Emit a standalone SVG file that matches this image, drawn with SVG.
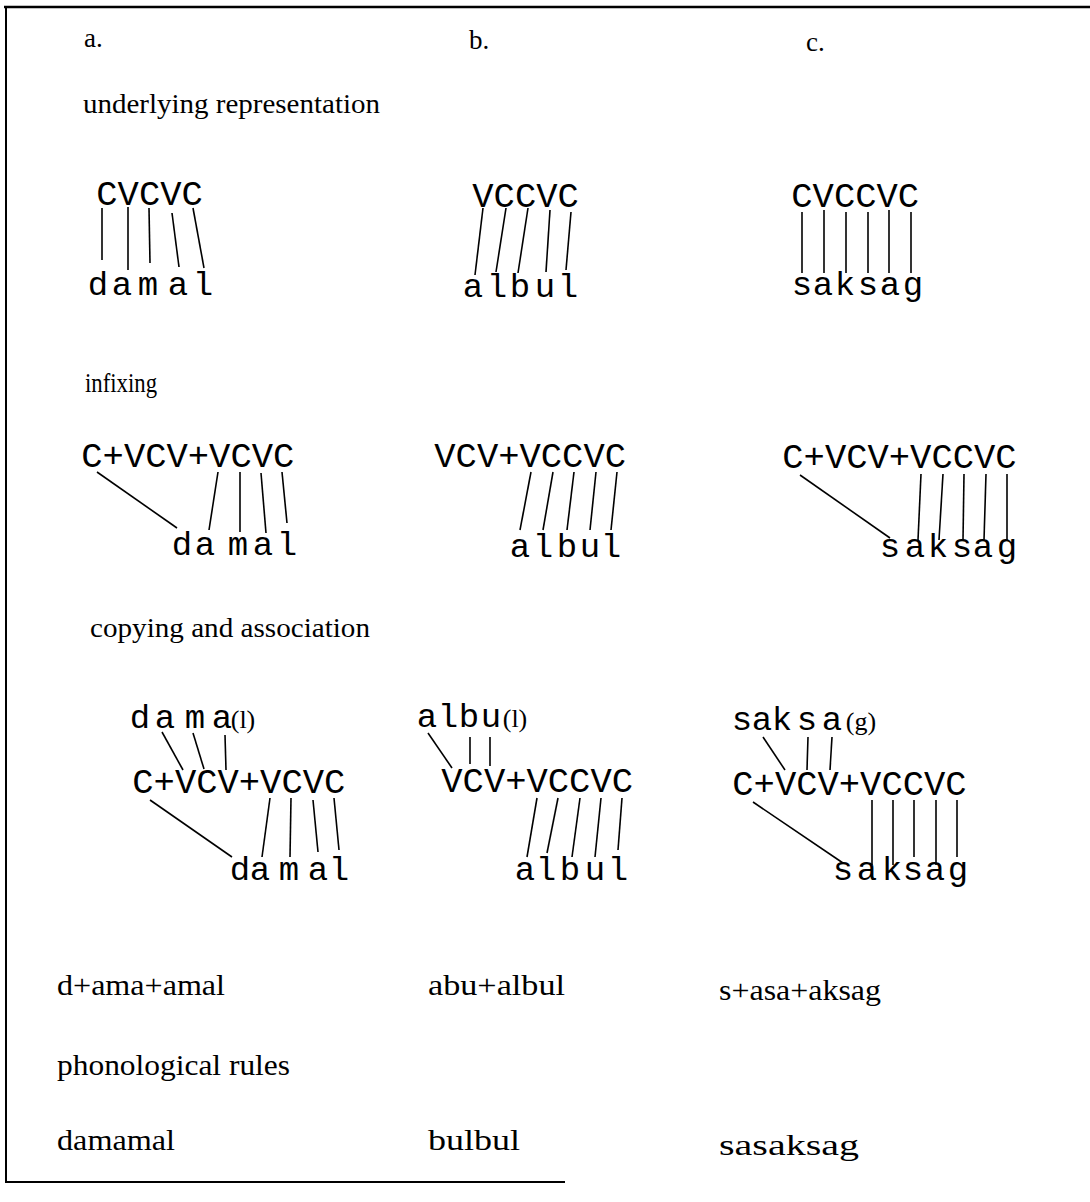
<svg xmlns="http://www.w3.org/2000/svg" width="1090" height="1202" viewBox="0 0 1090 1202">
<style>
.lab{font-family:"Liberation Serif",serif;font-size:27px;fill:#000}
.res{font-family:"Liberation Serif",serif;font-size:30px;fill:#000}
.m{font-family:"Liberation Mono",monospace;font-size:35.5px;fill:#000}
.mc{font-family:"Liberation Mono",monospace;font-size:34px;fill:#000;text-anchor:middle}
.p{font-family:"Liberation Serif",serif;font-size:26px;fill:#000;text-anchor:middle}
.ln line{stroke:#000;stroke-width:1.6}
.frame{stroke:#000;fill:none}
</style>
<rect width="1090" height="1202" fill="#fff"/>
<g id="frame">
<line class="frame" x1="4" y1="7" x2="1090" y2="7" stroke-width="2.5"/>
<line class="frame" x1="6" y1="6" x2="6" y2="1183" stroke-width="2"/>
<line class="frame" x1="5" y1="1182" x2="565" y2="1182" stroke-width="2"/>
</g>
<g id="headers">
<text class="lab" x="84" y="47" font-size="22">a.</text>
<text class="lab" x="469" y="49" font-size="22">b.</text>
<text class="lab" x="806" y="51" font-size="22">c.</text>
<text class="lab" x="83" y="113" textLength="297" lengthAdjust="spacingAndGlyphs">underlying representation</text>
<text class="lab" x="85" y="392" textLength="72" lengthAdjust="spacingAndGlyphs">infixing</text>
<text class="lab" x="90" y="637" textLength="280" lengthAdjust="spacingAndGlyphs">copying and association</text>
</g>
<g id="ur-a">
<text class="m" x="96.3" y="205">CVCVC</text>
<text class="mc" x="98 122 148 178 203" y="295">damal</text>
</g>
<g id="ur-b">
<text class="m" x="472.3" y="207">VCCVC</text>
<text class="mc" x="473 497 520 545 568" y="297">albul</text>
</g>
<g id="ur-c">
<text class="m" x="791.3" y="207">CVCCVC</text>
<text class="mc" x="802 823 845 868 890 913" y="295">saksag</text>
</g>
<g id="inf-a">
<text class="m" x="81.3" y="467">C+VCV+VCVC</text>
<text class="mc" x="182 205 238 263 287" y="555">damal</text>
</g>
<g id="inf-b">
<text class="m" x="434.3" y="467">VCV+VCCVC</text>
<text class="mc" x="520 543 567 590 611" y="557">albul</text>
</g>
<g id="inf-c">
<text class="m" x="782.3" y="468">C+VCV+VCCVC</text>
<text class="mc" x="890 915 938 962 983 1007" y="557">saksag</text>
</g>
<g id="copy-a">
<text class="mc" x="140 165 195 222" y="728">dama</text>
<text class="p" x="243" y="728">(l)</text>
<text class="m" x="132.3" y="793">C+VCV+VCVC</text>
<text class="mc" x="240 260 289 318 339" y="880">damal</text>
</g>
<g id="copy-b">
<text class="mc" x="427 448 469 491" y="727">albu</text>
<text class="p" x="515" y="727">(l)</text>
<text class="m" x="441.3" y="792">VCV+VCCVC</text>
<text class="mc" x="525 546 570 595 618" y="880">albul</text>
</g>
<g id="copy-c">
<text class="mc" x="742 762 782 807 832" y="730">saksa</text>
<text class="p" x="861" y="730">(g)</text>
<text class="m" x="732.3" y="795">C+VCV+VCCVC</text>
<text class="mc" x="843 867 892 913 935 958" y="880">saksag</text>
</g>
<g id="results">
<text class="res" x="57" y="995" textLength="168" lengthAdjust="spacingAndGlyphs">d+ama+amal</text>
<text class="res" x="428" y="995" textLength="137" lengthAdjust="spacingAndGlyphs">abu+albul</text>
<text class="res" x="719" y="1000" textLength="162" lengthAdjust="spacingAndGlyphs">s+asa+aksag</text>
<text class="res" x="57" y="1075" textLength="233" lengthAdjust="spacingAndGlyphs">phonological rules</text>
<text class="res" x="57" y="1150" textLength="118" lengthAdjust="spacingAndGlyphs">damamal</text>
<text class="res" x="428" y="1150" textLength="92" lengthAdjust="spacingAndGlyphs">bulbul</text>
<text class="res" x="719" y="1155" textLength="140" lengthAdjust="spacingAndGlyphs">sasaksag</text>
</g>
<g id="connectors" class="ln">
<line x1="102" y1="208" x2="102" y2="260"/>
<line x1="128" y1="207" x2="128" y2="270"/>
<line x1="149" y1="208" x2="150" y2="263"/>
<line x1="172" y1="213" x2="179" y2="267"/>
<line x1="193" y1="208" x2="204" y2="268"/>
<line x1="483" y1="208" x2="475" y2="275"/>
<line x1="506" y1="208" x2="496" y2="272"/>
<line x1="528" y1="208" x2="518" y2="273"/>
<line x1="550" y1="210" x2="546" y2="272"/>
<line x1="571" y1="212" x2="566" y2="270"/>
<line x1="802" y1="212" x2="802" y2="273"/>
<line x1="824" y1="210" x2="824" y2="273"/>
<line x1="846" y1="212" x2="846" y2="273"/>
<line x1="868" y1="212" x2="868" y2="273"/>
<line x1="889" y1="210" x2="889" y2="273"/>
<line x1="911" y1="212" x2="911" y2="273"/>
<line x1="97" y1="472" x2="177" y2="528"/>
<line x1="218" y1="472" x2="209" y2="530"/>
<line x1="240" y1="472" x2="240" y2="532"/>
<line x1="261" y1="473" x2="266" y2="533"/>
<line x1="282" y1="472" x2="287" y2="523"/>
<line x1="531" y1="472" x2="520" y2="530"/>
<line x1="553" y1="472" x2="543" y2="530"/>
<line x1="574" y1="472" x2="567" y2="530"/>
<line x1="596" y1="472" x2="590" y2="530"/>
<line x1="617" y1="472" x2="611" y2="530"/>
<line x1="800" y1="475" x2="890" y2="538"/>
<line x1="921" y1="474" x2="918" y2="540"/>
<line x1="943" y1="474" x2="939" y2="540"/>
<line x1="964" y1="474" x2="963" y2="540"/>
<line x1="986" y1="474" x2="984" y2="540"/>
<line x1="1007" y1="474" x2="1007" y2="540"/>
<line x1="162" y1="732" x2="183" y2="770"/>
<line x1="193" y1="733" x2="204" y2="769"/>
<line x1="225" y1="735" x2="226" y2="770"/>
<line x1="150" y1="800" x2="232" y2="857"/>
<line x1="270" y1="798" x2="262" y2="857"/>
<line x1="291" y1="798" x2="290" y2="857"/>
<line x1="313" y1="800" x2="318" y2="852"/>
<line x1="334" y1="798" x2="339" y2="850"/>
<line x1="428" y1="733" x2="452" y2="768"/>
<line x1="470" y1="737" x2="470" y2="764"/>
<line x1="490" y1="737" x2="490" y2="766"/>
<line x1="537" y1="798" x2="527" y2="857"/>
<line x1="558" y1="798" x2="547" y2="853"/>
<line x1="580" y1="798" x2="572" y2="857"/>
<line x1="601" y1="798" x2="595" y2="857"/>
<line x1="622" y1="798" x2="618" y2="850"/>
<line x1="763" y1="737" x2="785" y2="770"/>
<line x1="808" y1="737" x2="807" y2="770"/>
<line x1="832" y1="737" x2="830" y2="770"/>
<line x1="753" y1="802" x2="843" y2="863"/>
<line x1="872" y1="800" x2="872" y2="865"/>
<line x1="893" y1="800" x2="893" y2="865"/>
<line x1="914" y1="800" x2="914" y2="857"/>
<line x1="936" y1="800" x2="936" y2="865"/>
<line x1="957" y1="800" x2="957" y2="857"/>
</g>
</svg>
